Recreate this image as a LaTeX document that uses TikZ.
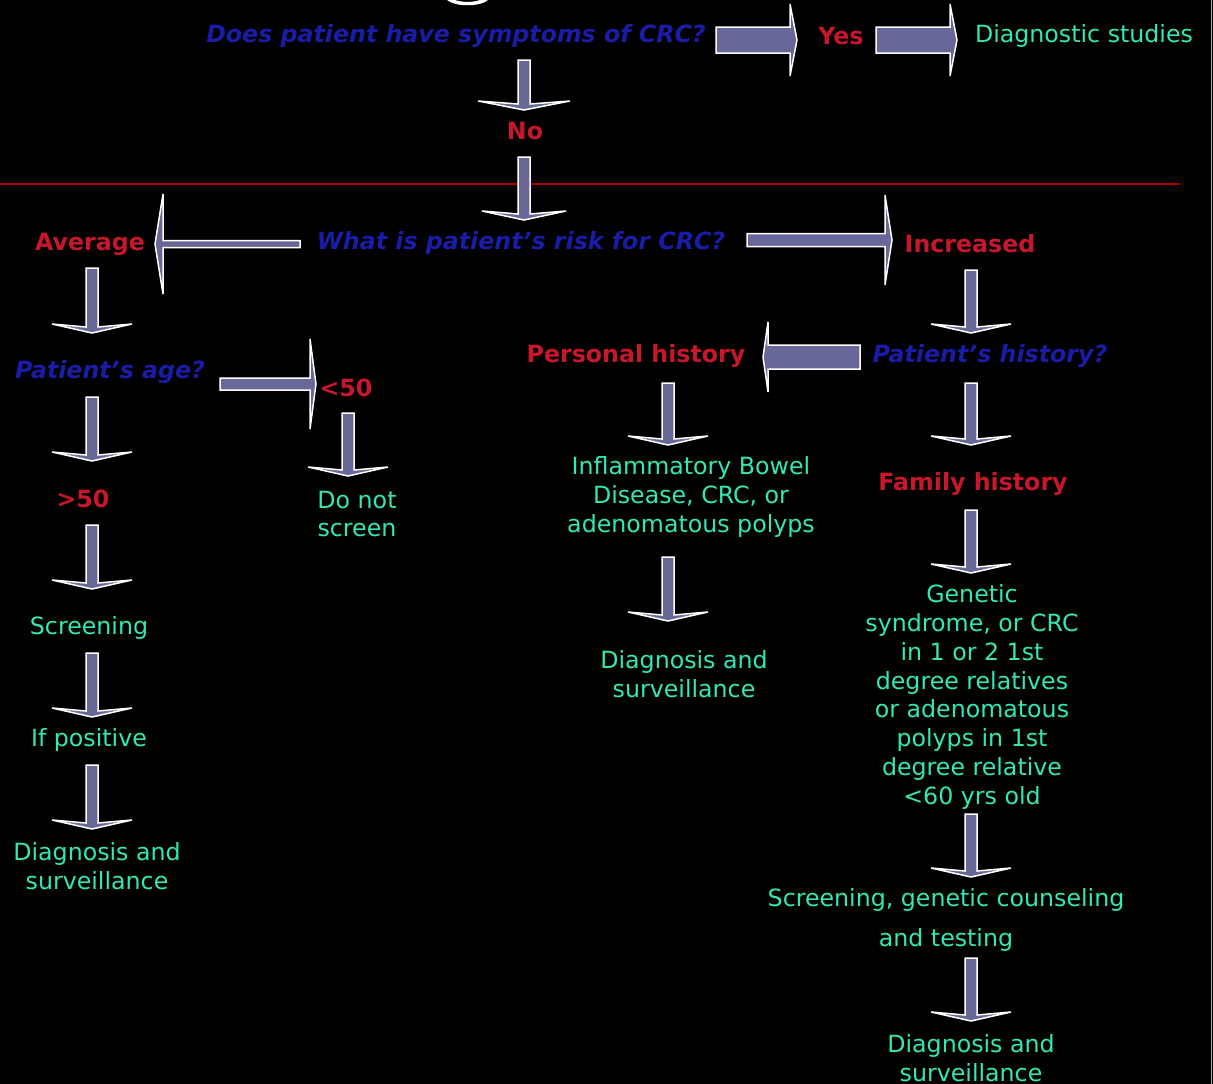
\documentclass[tikz,border=0pt]{standalone}
\usepackage{fontspec}
\setmainfont{DejaVu Sans}
\definecolor{qblue}{RGB}{26,28,168}
\definecolor{ared}{RGB}{200,22,42}
\definecolor{teal2}{RGB}{50,232,180}
\definecolor{afill}{RGB}{104,104,152}
\definecolor{lred}{RGB}{170,0,0}
\newcommand\DArr[4]{\draw[blk] ({#1-6},#2) -- ({#1+6},#2) -- ({#1+6},{#3-6}) -- ({#1+#4},{#3-9}) -- (#1,#3) -- ({#1-#4},{#3-9}) -- ({#1-6},{#3-6}) -- cycle;}
\newcommand\HArr[6]{\draw[blk] (#1,{#4-#5}) -- (#2,{#4-#5}) -- (#2,{#4-#6}) -- (#3,#4) -- (#2,{#4+#6}) -- (#2,{#4+#5}) -- (#1,{#4+#5}) -- cycle;}
\begin{document}
\begin{tikzpicture}[x=1pt,y=-1pt,
  blk/.style={fill=afill,draw=white,line width=1.5pt,line join=miter},
  qtext/.style={text=qblue,font=\fontsize{23.7}{28.8}\selectfont\bfseries\itshape,inner sep=0pt},
  rtext/.style={text=ared,font=\fontsize{23.7}{28.8}\selectfont\bfseries,inner sep=0pt},
  ttext/.style={text=teal2,font=\fontsize{23.7}{28.8}\selectfont,align=center,inner sep=0pt}]
\fill[black] (0,0) rectangle (1213,1084);
\useasboundingbox (0,0) rectangle (1213,1084);
% partial title glyph
\fill[white] (447,0) .. controls (455,7) and (480,7) .. (488,0) -- (480,0) .. controls (473,2.5) and (462,2.5) .. (455,0) -- cycle;
\draw[gray!70,line width=1pt] (1211,0) -- (1211,1084);
% separator
\draw[lred,line width=2.5pt] (0,184) -- (1180,184);
% texts
\node[qtext] (q1) at (456,36) {Does patient have symptoms of CRC?};
\node[rtext] (yes) at (841,36) {Yes};
\node[ttext] (diag) at (1084,36) {Diagnostic studies};
\node[rtext] (no) at (525,131) {No};
\node[qtext] (q2) at (521,243) {What is patient’s risk for CRC?};
\node[rtext] (avg) at (90,244) {Average};
\node[rtext] (inc) at (970,244) {Increased};
\node[qtext] (age) at (110,372) {Patient’s age?};
\node[rtext] (lt50) at (346,388) {<50};
\node[ttext] (dns) at (357,514) {Do not\\screen};
\node[rtext] (gt50) at (83,499) {>50};
\node[ttext] (scr) at (89,628) {Screening};
\node[ttext] (ifp) at (89,740) {If positive};
\node[ttext] (dx1) at (97,866) {Diagnosis and\\surveillance};
\node[qtext] (ph) at (990,356) {Patient’s history?};
\node[rtext] (pers) at (636,356) {Personal history};
\node[ttext] (ibd) at (691,497) {Inflammatory Bowel\\Disease, CRC, or\\adenomatous polyps};
\node[ttext] (dx2) at (684,674) {Diagnosis and\\surveillance};
\node[rtext] (fam) at (973,484) {Family history};
\node[ttext] (gen) at (972,697) {Genetic\\syndrome, or CRC\\in 1 or 2 1st\\degree relatives\\or adenomatous\\polyps in 1st\\degree relative\\<60 yrs old};
\node[ttext] (sgc) at (946,920) {Screening, genetic counseling\\[12pt]and testing};
\node[ttext] (dx3) at (971,1058) {Diagnosis and\\surveillance};
% horizontal block arrows
\HArr{716}{790}{797}{40}{13}{36}
\HArr{876}{950}{957}{40}{13}{36}
\HArr{300}{163}{155}{244}{3.5}{50}
\HArr{747}{885}{892}{240}{6.5}{45}
\HArr{220}{310}{316}{384}{6}{45}
\HArr{860}{768}{763}{357}{12}{35}
% vertical block arrows
\DArr{524}{60}{110}{46}
\DArr{524}{157}{220}{42}
\DArr{92}{268}{333}{40}
\DArr{92}{397}{461}{40}
\DArr{92}{525}{589}{40}
\DArr{92}{653}{717}{40}
\DArr{92}{765}{829}{40}
\DArr{348}{413}{476}{40}
\DArr{971}{270}{333}{40}
\DArr{668}{383}{445}{40}
\DArr{668}{557}{621}{40}
\DArr{971}{383}{445}{40}
\DArr{971}{510}{573}{40}
\DArr{971}{814}{877}{40}
\DArr{971}{958}{1021}{40}
\end{tikzpicture}
\end{document}
